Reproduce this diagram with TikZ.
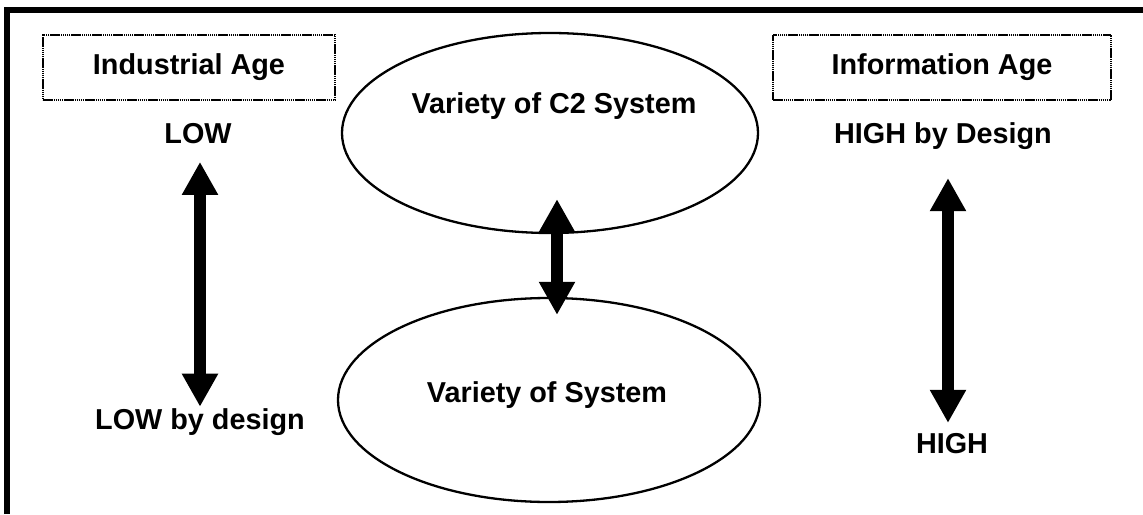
\documentclass[tikz,border=0pt]{standalone}
\usepackage{fontspec}
\setmainfont{Liberation Sans}
\usetikzlibrary{positioning}
\usetikzlibrary{shapes.geometric}
\usetikzlibrary{arrows.meta}

\begin{document}
\begin{tikzpicture}[x=1pt,y=-1pt,
	lbl/.style={font=\bfseries\fontsize{28.8}{34}\selectfont,inner sep=0pt,outer sep=0pt},
	agebox/.style={lbl,draw,line width=2.5pt,dash pattern=on 1.5pt off 0.6pt,minimum width=292pt,minimum height=65pt},
	oval/.style={draw,ellipse,line width=2.3pt,minimum width=416pt,minimum height=200pt,inner sep=0pt},
	fat/.style={line width=12pt,{Triangle[width=34pt,length=33pt]}-{Triangle[width=34pt,length=33pt]}}]
	\useasboundingbox (0,0) rectangle (1143,514);
	\draw[line width=6pt] (6.5,514) -- (6.5,10) -- (1143,10);
	\node[agebox] (industrial) at (189,67.5) {Industrial Age};
	\node[agebox,minimum width=338pt] (information) at (942,67.5) {Information Age};
	\node[oval] (c2) at (550,133) {};
	\node[oval,minimum width=422pt,minimum height=204pt] (sys) at (549,400) {};
	\node[lbl,anchor=base] (c2txt) at (554,113) {Variety of C2 System};
	\node[lbl,anchor=base] (systxt) at (547,402) {Variety of System};
	\node[lbl,anchor=base] (low) at (198,143) {LOW};
	\node[lbl,anchor=base] (lowdes) at (200,429) {LOW by design};
	\node[lbl,anchor=base] (highdes) at (943,143) {HIGH by Design};
	\node[lbl,anchor=base] (high) at (952,453) {HIGH};
	\draw[fat,shorten <=18.6pt,shorten >=1.4pt] ([xshift=2pt]low.south) -- (lowdes.north);
	\draw[fat,shorten <=29pt,shorten >=10pt] ([xshift=5pt]highdes.south) -- ([xshift=-4pt]high.north);
	\draw[fat,shorten <=-35pt,shorten >=-18pt] ([xshift=7pt]c2.south) -- ([xshift=8pt]sys.north);
\end{tikzpicture}
\end{document}
